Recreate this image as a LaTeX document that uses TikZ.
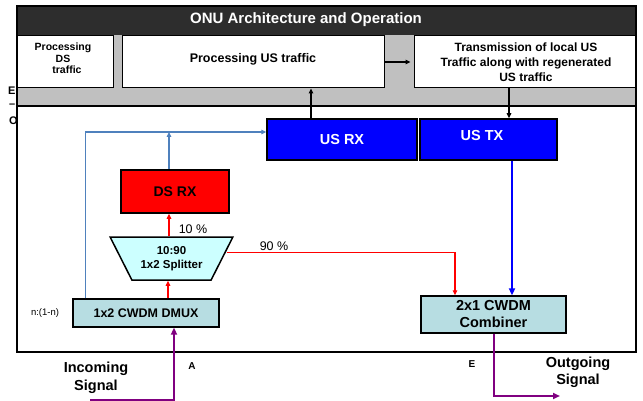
\documentclass[tikz,border=0pt]{standalone}
\usepackage{fontspec}
\setmainfont{Liberation Sans}
\usetikzlibrary{arrows.meta,shapes.geometric}
\definecolor{titlebg}{RGB}{45,45,45}
\definecolor{bandgray}{RGB}{192,192,192}
\definecolor{steel}{RGB}{79,129,189}
\definecolor{cwdm}{RGB}{183,221,226}
\definecolor{splitfill}{RGB}{204,255,255}
\definecolor{purp}{RGB}{128,0,128}
\newcommand\fsz[2]{\fontsize{#1}{#2}\selectfont}
\begin{document}
\begin{tikzpicture}[x=1pt,y=-1pt,
  topbox/.style={draw=black,line width=1pt,fill=white,inner sep=0pt},
  colbox/.style={draw=black,line width=1.5pt,inner sep=0pt},
  txt/.style={inner sep=0pt,align=center},
  tip/.style={-{Triangle[length=5pt,width=4.5pt]}},
  bigtip/.style={-{Triangle[length=7pt,width=6pt]}},
  redln/.style={draw=red,line width=1.2pt},
  steelln/.style={draw=steel,line width=1.1pt},
  blkln/.style={draw=black,line width=1.2pt},
  purpln/.style={draw=purp,line width=2pt},
]
\useasboundingbox (0,0) rectangle (643,401);
% clipped margin letters
\node[txt,anchor=west,font=\bfseries\fsz{11}{13}] (mE) at (8,91) {E};
\node[txt,anchor=west,font=\bfseries\fsz{11}{13}] (mD) at (9,106) {--};
\node[txt,anchor=west,font=\bfseries\fsz{11}{13}] (mO) at (9,121) {O};
% background regions
\fill[bandgray] (17,35) rectangle (636,106);
\fill[white] (17,106) rectangle (636,352);
\draw[line width=1.2pt] (17,106) -- (636,106);
\fill[titlebg] (17,6) rectangle (636,35);
\node[txt,text=white,font=\bfseries\fsz{15}{18}] (title) at (306,20) {ONU Architecture and Operation};
% top boxes
\node[topbox,minimum width=96pt,minimum height=52pt] (b1) at (65,62) {};
\node[topbox,minimum width=262pt,minimum height=52pt] (b2) at (253,62) {};
\node[topbox,minimum width=222pt,minimum height=52pt] (b3) at (525,62) {};
\node[txt,font=\bfseries\fsz{10.5}{11.5}] (t1) at (63,58.5) {Processing\\DS\\\hspace*{8pt}traffic};
\node[txt,font=\bfseries\fsz{12.5}{15}] (t2) at (253,59) {Processing US traffic};
\node[txt,font=\bfseries\fsz{12}{15}] (t3) at (526,62) {Transmission of local US\\Traffic along with regenerated\\US traffic};
% outer frame
\draw[line width=2pt] (17,6) rectangle (636,352);
% blocks
\node[colbox,fill=blue,minimum width=150pt,minimum height=41pt,text=white,font=\bfseries\fsz{14.5}{17}] (usrx) at (342,139.5) {US RX};
\node[colbox,fill=blue,minimum width=137pt,minimum height=41pt] (ustx) at (488.5,139.5) {};
\node[txt,text=white,font=\bfseries\fsz{14.5}{17}] (ustxt) at (482,136) {US TX};
\node[colbox,fill=red,minimum width=108pt,minimum height=43pt,font=\bfseries\fsz{14}{17}] (dsrx) at (175,191.5) {DS RX};
\node[trapezium,draw=black,line width=1.5pt,fill=splitfill,trapezium stretches=true,
  minimum width=123pt,minimum height=43pt,trapezium angle=55.1,shape border rotate=180,
  inner sep=0pt,align=center,font=\bfseries\fsz{11.5}{14}] (spl) at (171.5,258.5) {10:90\\1x2 Splitter};
\node[colbox,fill=cwdm,line width=1.3pt,minimum width=146pt,minimum height=28pt,font=\bfseries\fsz{12.5}{15}] (dmux) at (146,313) {1x2 CWDM DMUX};
\node[colbox,fill=cwdm,line width=1.3pt,minimum width=145pt,minimum height=37pt,align=center,font=\bfseries\fsz{14.5}{17}] (comb) at (493.5,314.5) {2x1 CWDM\\Combiner};
% labels
\node[txt,font=\fsz{12.5}{15}] (l10) at (193,229) {10 \%};
\node[txt,font=\fsz{12.5}{15}] (l90) at (274,246) {90 \%};
\node[txt,font=\fsz{9.5}{11}] (lnn) at (45,313) {n:(1-n)};
\node[txt,font=\bfseries\fsz{14.5}{18.5}] (lin) at (96,378) {Incoming\\Signal};
\node[txt,font=\bfseries\fsz{14.5}{17}] (lout) at (578,372) {Outgoing\\Signal};
\node[txt,font=\bfseries\fsz{10}{12}] (lA) at (192,366) {A};
\node[txt,font=\bfseries\fsz{10}{12}] (lE) at (472,364) {E};
% connectors: top
\draw[blkln,tip] (b2.east) -- ([xshift=-3pt]b3.west);
\coordinate (ua) at ([xshift=-31pt]usrx.north);
\draw[blkln,tip] (ua) -- (ua |- b2.south);
\coordinate (ta) at ([xshift=20.5pt]ustx.north);
\draw[blkln,tip] (ta |- b3.south) -- (ta);
% steel lines
\coordinate (bl) at ([yshift=7.5pt]usrx.west);
\draw[steelln,tip] ([xshift=13pt]dmux.north west) |- (bl);
\coordinate (dsx) at ([xshift=-6pt]dsrx.north);
\draw[steelln,tip] (dsx) -- (dsx |- bl);
% red lines
\coordinate (sx) at ([xshift=-2.5pt]spl.90);
\draw[redln,tip] (sx) -- (sx |- dsrx.south);
\coordinate (sb) at ([xshift=-3.5pt]spl.270);
\draw[redln,tip] (sb |- dmux.north) -- (sb);
\coordinate (s90) at ([xshift=4pt,yshift=6pt]spl.0);
\coordinate (cr) at ([xshift=-38.5pt]comb.north);
\draw[redln,tip] (s90) -| (cr);
% blue thick
\coordinate (cb) at ([xshift=18.5pt]comb.north);
\draw[draw=blue,line width=2.2pt,bigtip] (cb |- ustx.south) -- (cb);
% purple
\coordinate (inS) at (90,400);
\coordinate (dm) at ([xshift=28pt]dmux.south);
\draw[purpln,bigtip] (inS) -| (dm);
\coordinate (outE) at (560,396);
\draw[purpln,bigtip] (comb.south) |- (outE);
\end{tikzpicture}
\end{document}
